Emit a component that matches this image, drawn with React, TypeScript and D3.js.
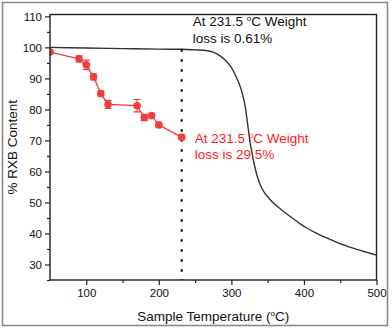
import React, { useEffect, useRef } from 'react';
import * as d3 from 'd3';

const width = 392;
const height = 330;
const margin = { top: 14.5, right: 15.5, bottom: 50, left: 50 };

// TGA curve of the neat sample (black line)
const tgaTemp = [50, 100, 150, 200, 231.5, 250, 265, 275, 285, 292, 299, 306, 312, 316, 319, 322, 324, 326, 328.6, 331, 333, 336, 339, 342, 346, 352, 358, 370, 382, 395, 405, 417, 428, 440, 451, 462, 474, 487, 500];
const tgaWeight = [100, 99.8, 99.6, 99.45, 99.39, 99.2, 99.0, 98.5, 97.2, 95.8, 93.9, 90.8, 87.5, 84.3, 81, 76, 72.4, 69, 65.9, 62.8, 60.8, 58.2, 56.2, 54.6, 53.0, 51.3, 49.8, 47.5, 45.3, 43.1, 41.6, 40.1, 38.9, 37.7, 36.6, 35.7, 34.8, 33.9, 33];

// RXB content measured at each sample temperature (red points)
const sampleTemp = [50, 90, 100, 110, 120, 130, 170, 180, 190, 200, 231.5];
const rxbContent = [98.5, 96.3, 94.4, 90.5, 85.1, 81.6, 81.2, 77.4, 78, 75, 71];
const rxbError = [0, 1, 1.5, 1, 0.8, 1.3, 2, 1, 0.5, 0.5, 0.8];

const xTicks = [100, 200, 300, 400, 500];
const xMinor = [150, 250, 350, 450];
const yTicks = [30, 40, 50, 60, 70, 80, 90, 100, 110];
const yMinor = [25, 35, 45, 55, 65, 75, 85, 95, 105];

const cutTemp = 231.5;
const font = '"Liberation Sans", Arial, sans-serif';
const red = '#f23c3c';

const x = d3.scaleLinear().domain([50, 500]).range([margin.left, width - margin.right]);
const y = d3.scaleLinear().domain([25, 110.6]).range([height - margin.bottom, margin.top]);

const tga = tgaTemp.map((t, i) => ({ t, w: tgaWeight[i] }));
const pts = sampleTemp.map((t, i) => ({ t, v: rxbContent[i], e: rxbError[i] }));

export default function App() {
  const xAxisRef = useRef<SVGGElement>(null);
  const yAxisRef = useRef<SVGGElement>(null);
  const xMinorRef = useRef<SVGGElement>(null);
  const yMinorRef = useRef<SVGGElement>(null);

  useEffect(() => {
    const style = (g: any) => {
      g.select('.domain').remove();
      g.selectAll('line').attr('stroke', '#222').attr('stroke-width', 1.2);
      g.selectAll('text').attr('fill', '#111').attr('font-family', font).attr('font-size', 11.5);
    };
    d3.select(xAxisRef.current!)
      .call(d3.axisBottom(x).tickValues(xTicks).tickSize(5).tickPadding(3.5) as any)
      .call(style);
    d3.select(yAxisRef.current!)
      .call(d3.axisLeft(y).tickValues(yTicks).tickSize(5).tickPadding(3) as any)
      .call(style);
    d3.select(xMinorRef.current!)
      .call(d3.axisBottom(x).tickValues(xMinor).tickSize(3).tickFormat(() => '') as any)
      .call(style);
    d3.select(yMinorRef.current!)
      .call(d3.axisLeft(y).tickValues(yMinor).tickSize(3).tickFormat(() => '') as any)
      .call(style);
  }, []);

  const tgaLine = d3
    .line<{ t: number; w: number }>()
    .x(d => x(d.t))
    .y(d => y(d.w))
    .curve(d3.curveMonotoneX);
  const rxbLine = d3
    .line<{ t: number; v: number }>()
    .x(d => x(d.t))
    .y(d => y(d.v));

  const [x0, x1] = x.range();
  const [y1, y0] = y.range();
  const tx = x(cutTemp) + 11;

  return (
    <svg width={width} height={height} style={{ position: 'absolute', left: 0, top: 0, background: '#fff' }}>
      <rect x={2.5} y={2.5} width={385} height={323} fill="#fff" stroke="#8a8a8a" strokeWidth={1.6} />
      <defs>
        <clipPath id="plot">
          <rect x={x0} y={y0} width={x1 - x0} height={y1 - y0} />
        </clipPath>
      </defs>
      <g clipPath="url(#plot)">
        <path d={tgaLine(tga) ?? ''} fill="none" stroke="#333" strokeWidth={1.4} />
        <line
          x1={x(cutTemp)}
          x2={x(cutTemp)}
          y1={y(99.4)}
          y2={y1}
          stroke="#000"
          strokeWidth={2}
          strokeDasharray="2.5 7.5"
        />
        <path d={rxbLine(pts) ?? ''} fill="none" stroke={red} strokeWidth={1.3} />
        {pts.map((d, i) => (
          <g key={i}>
            {d.e > 0 && (
              <g stroke={red} strokeWidth={1.1}>
                <line x1={x(d.t)} x2={x(d.t)} y1={y(d.v - d.e)} y2={y(d.v + d.e)} />
                <line x1={x(d.t) - 3.5} x2={x(d.t) + 3.5} y1={y(d.v - d.e)} y2={y(d.v - d.e)} />
                <line x1={x(d.t) - 3.5} x2={x(d.t) + 3.5} y1={y(d.v + d.e)} y2={y(d.v + d.e)} />
              </g>
            )}
            <circle cx={x(d.t)} cy={y(d.v)} r={3.8} fill={red} />
          </g>
        ))}
      </g>
      <rect x={x0} y={y0} width={x1 - x0} height={y1 - y0} fill="none" stroke="#222" strokeWidth={1.4} />
      <g ref={xMinorRef} transform={`translate(0,${y1})`} />
      <g ref={yMinorRef} transform={`translate(${x0},0)`} />
      <g ref={xAxisRef} transform={`translate(0,${y1})`} />
      <g ref={yAxisRef} transform={`translate(${x0},0)`} />

      <text x={x(cutTemp) + 11} y={26} fontFamily={font} fontSize={13.5} fill="#111">
        At 231.5 <tspan fontSize={8} dy={-5}>o</tspan><tspan dy={5}>C Weight</tspan>
      </text>
      <text x={x(cutTemp) + 11} y={42.5} fontFamily={font} fontSize={13.5} fill="#111">
        loss is 0.61%
      </text>
      <text x={tx + 2} y={142.5} fontFamily={font} fontSize={13.5} fill="#ff1a1a">
        At 231.5 <tspan fontSize={8} dy={-5}>o</tspan><tspan dy={5}>C Weight</tspan>
      </text>
      <text x={tx + 2} y={159} fontFamily={font} fontSize={13.5} fill="#ff1a1a">
        loss is 29.5%
      </text>

      <text
        x={(x0 + x1) / 2}
        y={320.5}
        textAnchor="middle"
        fontFamily={font}
        fontSize={13.5}
        fill="#111"
      >
        Sample Temperature (<tspan fontSize={8} dy={-5}>o</tspan><tspan dy={5}>C)</tspan>
      </text>
      <text
        transform={`translate(17,${(y0 + y1) / 2}) rotate(-90)`}
        textAnchor="middle"
        fontFamily={font}
        fontSize={13.5}
        fill="#111"
      >
        % RXB Content
      </text>
    </svg>
  );
}
